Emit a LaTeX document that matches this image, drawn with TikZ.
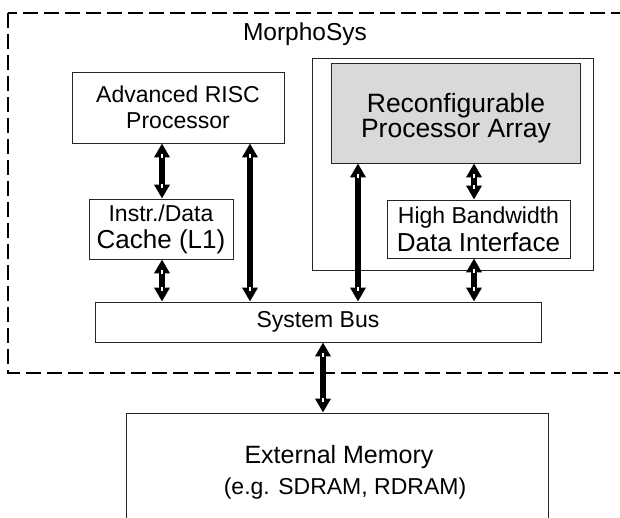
\documentclass[tikz,border=0pt]{standalone}
\usepackage{fontspec}
\setmainfont{Liberation Sans}
\usetikzlibrary{arrows.meta,calc}
% double-headed data path with the small white notch at each head
\newcommand\dataflow[2]{%
  \draw[flow] (#1) -- (#2);
  \draw[notch] ($(#1)!11pt!(#2)$) -- ($(#1)!15pt!(#2)$);
  \draw[notch] ($(#2)!11pt!(#1)$) -- ($(#2)!15pt!(#1)$);
}
\begin{document}
\begin{tikzpicture}[x=1pt,y=-1pt,
  box/.style={draw=black!85, line width=0.9pt, fill=white, inner sep=0pt, align=center},
  smalltxt/.style={font=\fontsize{23}{26}\selectfont},
  bigtxt/.style={font=\fontsize{26.5}{25}\selectfont},
  flow/.style={line width=5.5pt, {Triangle[length=14pt,width=15pt]}-{Triangle[length=14pt,width=15pt]}},
  notch/.style={white, line width=1.5pt},
  outerframe/.style={draw=black, line width=2.5pt, dash pattern=on 15pt off 6pt}]
\useasboundingbox (0,0) rectangle (620,518);
\clip (0,0) rectangle (620,518);
\fill[white] (0,0) rectangle (620,518);

% MorphoSys chip boundary
\draw[outerframe] (8,13) rectangle (650,373);
\node[font=\fontsize{24.5}{26}\selectfont, anchor=base] (title) at (305,41) {MorphoSys};

% processor side
\node[box, smalltxt, minimum width=212pt, minimum height=71pt] (risc) at (178,107.5)
  {Advanced RISC\\Processor};
\node[box, font=\fontsize{23}{27}\selectfont, minimum width=144pt, minimum height=60pt] (cache) at (161,229)
  {Instr./Data\\{\fontsize{26}{27}\selectfont Cache (L1)}};

% reconfigurable side
\node[box, minimum width=281pt, minimum height=212pt] (rcside) at (452.5,164) {};
\node[box, fill=black!15, minimum width=249pt, minimum height=100pt] (rpa) at (455.5,113) {};
\node[bigtxt, align=center] (rpatext) at (456,118) {Reconfigurable\\Processor Array};
\node[box, font=\fontsize{23}{28}\selectfont, minimum width=183pt, minimum height=58pt] (hbdi) at (478.5,229)
  {High Bandwidth\\{\fontsize{26}{28}\selectfont Data Interface}};

% system bus and external memory
\node[box, smalltxt, minimum width=446pt, minimum height=40pt] (bus) at (318,322) {System Bus};
\node[box, minimum width=422pt, minimum height=140pt] (mem) at (337,483) {};
\node[align=center, font=\fontsize{23}{31}\selectfont] (memtext) at (339,472)
  {{\fontsize{25}{31}\selectfont External Memory}\\\hspace*{12pt}(e.g. SDRAM, RDRAM)};

% connection points
\coordinate (a1) at (risc.south -| 162,0);
\coordinate (b1) at (cache.north -| 162,0);
\coordinate (a2) at (cache.south -| 162,0);
\coordinate (b2) at (bus.north -| 162,0);
\coordinate (a3) at (risc.south -| 250,0);
\coordinate (b3) at (bus.north -| 250,0);
\coordinate (a4) at (rpa.south -| 358,0);
\coordinate (b4) at (bus.north -| 358,0);
\coordinate (a5) at (rpa.south -| 474,0);
\coordinate (b5) at (hbdi.north -| 474,0);
\coordinate (a6) at (hbdi.south -| 474,0);
\coordinate (b6) at (bus.north -| 474,0);
\coordinate (a7) at (bus.south -| 323,0);
\coordinate (b7) at (mem.north -| 323,0);

\dataflow{a1}{b1}
\dataflow{a2}{b2}
\dataflow{a3}{b3}
\dataflow{a4}{b4}
\dataflow{a5}{b5}
\dataflow{a6}{b6}
\dataflow{a7}{b7}
\end{tikzpicture}
\end{document}
